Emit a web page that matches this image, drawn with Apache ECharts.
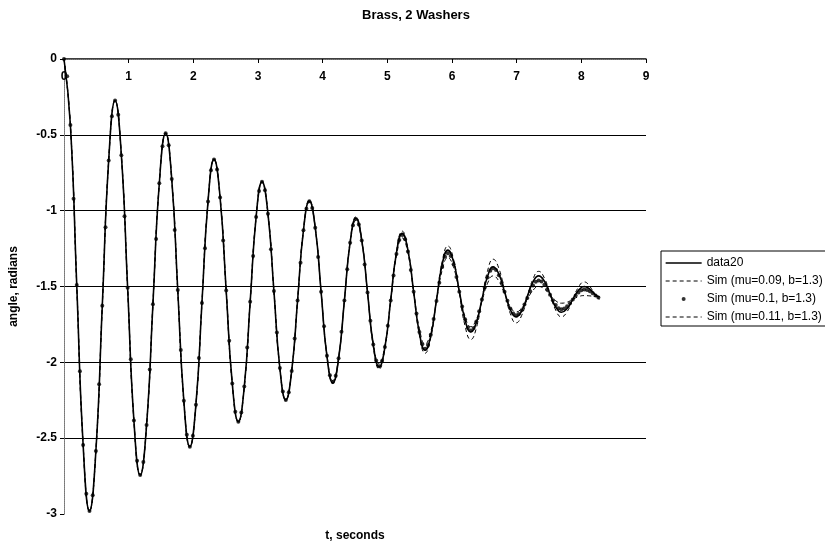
<!DOCTYPE html>
<html>
<head>
<meta charset="utf-8">
<title>Brass, 2 Washers</title>
<script src="https://cdn.jsdelivr.net/npm/echarts@6/dist/echarts.min.js"></script>
<style>
    html, body { margin: 0; padding: 0; background: #fff; }
    #chart { width: 825px; height: 547px; }
</style>
</head>
<body>
<div id="chart"></div>
<script>
// sample times of the simulated dots (mu=0.1), seconds
const simTime = [
    0, 0.049, 0.099, 0.148, 0.197, 0.246, 0.296, 0.345,
    0.394, 0.444, 0.493, 0.543, 0.592, 0.642, 0.691, 0.741,
    0.790, 0.839, 0.887, 0.936, 0.984, 1.033, 1.081, 1.130,
    1.178, 1.227, 1.277, 1.326, 1.375, 1.424, 1.474, 1.523,
    1.572, 1.619, 1.666, 1.712, 1.759, 1.806, 1.853, 1.899,
    1.946, 1.993, 2.040, 2.086, 2.133, 2.180, 2.227, 2.273,
    2.320, 2.367, 2.414, 2.461, 2.508, 2.555, 2.602, 2.649,
    2.696, 2.742, 2.788, 2.833, 2.879, 2.925, 2.971, 3.016,
    3.062, 3.108, 3.154, 3.200, 3.246, 3.292, 3.338, 3.384,
    3.430, 3.476, 3.521, 3.567, 3.612, 3.658, 3.703, 3.749,
    3.794, 3.839, 3.885, 3.930, 3.976, 4.021, 4.066, 4.112,
    4.157, 4.202, 4.246, 4.291, 4.336, 4.380, 4.425, 4.469,
    4.514, 4.559, 4.604, 4.649, 4.694, 4.738, 4.783, 4.828,
    4.873, 4.918, 4.962, 5.007, 5.052, 5.096, 5.141, 5.185,
    5.230, 5.274, 5.319, 5.363, 5.407, 5.451, 5.496, 5.540,
    5.584, 5.628, 5.672, 5.716, 5.760, 5.804, 5.848, 5.892,
    5.936, 5.980, 6.025, 6.069, 6.113, 6.157, 6.202, 6.246,
    6.290, 6.333, 6.377, 6.420, 6.463, 6.506, 6.550, 6.593,
    6.636, 6.680, 6.725, 6.769, 6.813, 6.857, 6.902, 6.946,
    6.990, 7.034, 7.078, 7.121, 7.165, 7.209, 7.253, 7.296,
    7.340, 7.384, 7.428, 7.472, 7.516, 7.560, 7.604, 7.648,
    7.692, 7.736, 7.780, 7.824, 7.868, 7.912, 7.956, 8.000,
    8.044, 8.088, 8.132, 8.176, 8.220, 8.264
];

// Sim (mu=0.1, b=1.3), radians
const sim10 = [
    0, -0.113, -0.435, -0.921, -1.49, -2.059, -2.545, -2.867,
    -2.98, -2.877, -2.585, -2.144, -1.627, -1.110, -0.669, -0.377,
    -0.274, -0.368, -0.634, -1.037, -1.509, -1.980, -2.383, -2.649,
    -2.743, -2.657, -2.414, -2.047, -1.617, -1.186, -0.819, -0.576,
    -0.49, -0.569, -0.792, -1.128, -1.523, -1.918, -2.254, -2.477,
    -2.556, -2.484, -2.279, -1.971, -1.609, -1.247, -0.939, -0.734,
    -0.662, -0.728, -0.914, -1.196, -1.527, -1.857, -2.139, -2.325,
    -2.391, -2.331, -2.160, -1.902, -1.601, -1.299, -1.041, -0.870,
    -0.81, -0.865, -1.020, -1.254, -1.529, -1.804, -2.038, -2.193,
    -2.248, -2.198, -2.057, -1.843, -1.593, -1.343, -1.129, -0.988,
    -0.938, -0.983, -1.112, -1.306, -1.534, -1.762, -1.956, -2.085,
    -2.13, -2.089, -1.973, -1.798, -1.593, -1.387, -1.212, -1.096,
    -1.055, -1.092, -1.197, -1.355, -1.540, -1.725, -1.883, -1.988,
    -2.025, -1.992, -1.899, -1.758, -1.593, -1.427, -1.286, -1.193,
    -1.16, -1.188, -1.269, -1.392, -1.535, -1.678, -1.800, -1.881,
    -1.91, -1.886, -1.818, -1.715, -1.595, -1.475, -1.372, -1.304,
    -1.28, -1.299, -1.354, -1.438, -1.535, -1.632, -1.716, -1.771,
    -1.79, -1.774, -1.730, -1.663, -1.585, -1.507, -1.440, -1.396,
    -1.38, -1.392, -1.425, -1.476, -1.535, -1.594, -1.645, -1.678,
    -1.69, -1.681, -1.656, -1.619, -1.575, -1.531, -1.494, -1.469,
    -1.46, -1.467, -1.488, -1.519, -1.555, -1.591, -1.622, -1.643,
    -1.65, -1.645, -1.631, -1.610, -1.585, -1.560, -1.539, -1.525,
    -1.52, -1.523, -1.532, -1.545, -1.56, -1.572
];

// sample times of the measured data and the two dashed sims, seconds
const lineTime = [
    0, 0.099, 0.197, 0.296,
    0.394, 0.493, 0.592, 0.691,
    0.790, 0.887, 0.984, 1.081,
    1.178, 1.277, 1.375, 1.474,
    1.572, 1.666, 1.759, 1.853,
    1.946, 2.040, 2.133, 2.227,
    2.320, 2.414, 2.508, 2.602,
    2.696, 2.788, 2.879, 2.971,
    3.062, 3.154, 3.246, 3.338,
    3.430, 3.521, 3.612, 3.703,
    3.794, 3.885, 3.976, 4.066,
    4.157, 4.246, 4.336, 4.425,
    4.514, 4.604, 4.694, 4.783,
    4.873, 4.962, 5.052, 5.141,
    5.230, 5.319, 5.407, 5.496,
    5.584, 5.672, 5.760, 5.848,
    5.936, 6.025, 6.113, 6.202,
    6.290, 6.377, 6.463, 6.550,
    6.636, 6.725, 6.813, 6.902,
    6.990, 7.078, 7.165, 7.253,
    7.340, 7.428, 7.516, 7.604,
    7.692, 7.780, 7.868, 7.956,
    8.044, 8.132, 8.220, 8.280
];

// data20, radians
const data20 = [
    0, -0.435, -1.49, -2.545,
    -2.98, -2.585, -1.627, -0.669,
    -0.274, -0.634, -1.509, -2.383,
    -2.743, -2.414, -1.617, -0.819,
    -0.49, -0.792, -1.523, -2.254,
    -2.556, -2.279, -1.609, -0.939,
    -0.662, -0.914, -1.527, -2.139,
    -2.391, -2.160, -1.601, -1.041,
    -0.81, -1.020, -1.529, -2.038,
    -2.248, -2.056, -1.592, -1.128,
    -0.936, -1.111, -1.536, -1.960,
    -2.135, -1.977, -1.593, -1.208,
    -1.05, -1.193, -1.540, -1.887,
    -2.03, -1.902, -1.590, -1.278,
    -1.15, -1.262, -1.535, -1.808,
    -1.92, -1.824, -1.590, -1.356,
    -1.26, -1.339, -1.530, -1.721,
    -1.80, -1.737, -1.585, -1.433,
    -1.37, -1.418, -1.535, -1.652,
    -1.70, -1.661, -1.565, -1.469,
    -1.43, -1.465, -1.550, -1.635,
    -1.67, -1.645, -1.585, -1.525,
    -1.50, -1.518, -1.555, -1.57
];

// Sim (mu=0.09, b=1.3), radians
const sim09 = [
    0, -0.435, -1.49, -2.545,
    -2.98, -2.585, -1.627, -0.669,
    -0.274, -0.634, -1.509, -2.383,
    -2.743, -2.414, -1.617, -0.819,
    -0.49, -0.792, -1.523, -2.254,
    -2.556, -2.279, -1.609, -0.939,
    -0.662, -0.914, -1.527, -2.139,
    -2.391, -2.160, -1.601, -1.041,
    -0.81, -1.020, -1.529, -2.038,
    -2.248, -2.056, -1.589, -1.122,
    -0.93, -1.107, -1.535, -1.963,
    -2.14, -1.979, -1.590, -1.201,
    -1.04, -1.187, -1.543, -1.898,
    -2.045, -1.912, -1.590, -1.268,
    -1.135, -1.253, -1.538, -1.822,
    -1.94, -1.837, -1.587, -1.336,
    -1.233, -1.323, -1.542, -1.760,
    -1.85, -1.773, -1.585, -1.397,
    -1.32, -1.381, -1.530, -1.679,
    -1.74, -1.690, -1.570, -1.450,
    -1.40, -1.444, -1.550, -1.656,
    -1.70, -1.666, -1.585, -1.504,
    -1.47, -1.50, -1.56, -1.585
];

// Sim (mu=0.11, b=1.3), radians
const sim11 = [
    0, -0.435, -1.49, -2.545,
    -2.98, -2.585, -1.627, -0.669,
    -0.274, -0.634, -1.509, -2.383,
    -2.743, -2.414, -1.617, -0.819,
    -0.49, -0.792, -1.523, -2.254,
    -2.556, -2.279, -1.609, -0.939,
    -0.662, -0.914, -1.527, -2.139,
    -2.391, -2.160, -1.601, -1.041,
    -0.81, -1.020, -1.529, -2.038,
    -2.248, -2.058, -1.597, -1.135,
    -0.945, -1.117, -1.533, -1.948,
    -2.12, -1.966, -1.593, -1.219,
    -1.065, -1.203, -1.538, -1.872,
    -2.01, -1.889, -1.595, -1.301,
    -1.18, -1.282, -1.530, -1.778,
    -1.88, -1.797, -1.595, -1.393,
    -1.31, -1.376, -1.538, -1.699,
    -1.765, -1.716, -1.598, -1.479,
    -1.43, -1.465, -1.549, -1.633,
    -1.668, -1.643, -1.584, -1.525,
    -1.50, -1.516, -1.555, -1.594,
    -1.61, -1.603, -1.585, -1.567,
    -1.56, -1.562, -1.566, -1.568
];

const seriesNames = ['data20', 'Sim (mu=0.09, b=1.3)', 'Sim (mu=0.1, b=1.3)', 'Sim (mu=0.11, b=1.3)'];

const FONT = "'Liberation Sans', Arial, sans-serif";
const boldText = { fontFamily: FONT, fontSize: 12, fontWeight: 'bold', color: '#000' };
const dottedBorder = { color: '#777', width: 1, type: 'dotted' };
const noSymbol = { color: 'rgba(0,0,0,0)', borderWidth: 0 };

//把时间和数值拼成点
function pairs(ts, vs) {
    return ts.map((t, i) => [t, vs[i]]);
}

const chart = echarts.init(document.getElementById('chart'));

chart.setOption({
    animation: false,
    backgroundColor: '#fff',
    textStyle: { fontFamily: FONT, color: '#000' },
    title: {
        text: 'Brass, 2 Washers',
        left: 362,
        top: 9,
        padding: 0,
        textStyle: { fontFamily: FONT, fontSize: 13, fontWeight: 'bold', color: '#000' }
    },
    legend: {
        orient: 'vertical',
        left: 661,
        top: 251,
        padding: [5, 4, 2, 4],
        itemGap: 4,
        itemWidth: 36,
        itemHeight: 4,
        borderColor: '#000',
        borderWidth: 1,
        borderRadius: 0,
        selectedMode: false,
        textStyle: { fontFamily: FONT, fontSize: 12, lineHeight: 14, color: '#000' },
        data: [
            { name: seriesNames[0], itemStyle: noSymbol, lineStyle: { color: '#000', width: 1.3, type: 'solid' } },
            { name: seriesNames[1], itemStyle: noSymbol, lineStyle: { color: '#000', width: 1, type: [4, 3] } },
            { name: seriesNames[2] },
            { name: seriesNames[3], itemStyle: noSymbol, lineStyle: { color: '#000', width: 1, type: [4, 3] } }
        ]
    },
    grid: { left: 60, right: 179, top: 59, bottom: 28 },
    xAxis: [
        {
            type: 'value',
            position: 'top',
            min: 0,
            max: 9,
            interval: 1,
            axisLine: { lineStyle: { color: '#000', width: 1.5 } },
            axisTick: { inside: true, length: 4, lineStyle: { color: '#000' } },
            axisLabel: Object.assign({ inside: true, margin: 12, showMinLabel: true, showMaxLabel: true }, boldText),
            splitLine: { show: false }
        },
        {
            type: 'value',
            position: 'bottom',
            min: 0,
            max: 9,
            axisLine: { show: true, lineStyle: dottedBorder },
            axisTick: { show: false },
            axisLabel: { show: false },
            splitLine: { show: false },
            name: 't, seconds',
            nameLocation: 'middle',
            nameGap: 16,
            nameTextStyle: boldText
        }
    ],
    yAxis: [
        {
            type: 'value',
            min: -3,
            max: 0,
            interval: 0.5,
            axisLine: { show: true, lineStyle: dottedBorder },
            axisTick: { show: true, length: 4, lineStyle: { color: '#000' } },
            axisLabel: Object.assign({ margin: 7 }, boldText),
            splitLine: {
                show: true,
                showMinLine: false,
                showMaxLine: false,
                lineStyle: { color: '#000', width: 1 }
            },
            name: 'angle, radians',
            nameLocation: 'middle',
            nameGap: 44,
            nameRotate: 90,
            nameTextStyle: boldText
        },
        {
            type: 'value',
            position: 'right',
            min: -3,
            max: 0,
            axisLine: { show: true, lineStyle: dottedBorder },
            axisTick: { show: false },
            axisLabel: { show: false },
            splitLine: { show: false }
        }
    ],
    series: [
        {
            name: seriesNames[0],
            type: 'line',
            data: pairs(lineTime, data20),
            symbol: 'none',
            smooth: 0.5,
            lineStyle: { color: '#000', width: 1.6 },
            itemStyle: { color: '#000' }
        },
        {
            name: seriesNames[1],
            type: 'line',
            data: pairs(lineTime, sim09),
            symbol: 'none',
            smooth: 0.5,
            lineStyle: { color: '#000', width: 1, type: [4, 3] },
            itemStyle: { color: '#000' }
        },
        {
            name: seriesNames[2],
            type: 'scatter',
            data: pairs(simTime, sim10),
            symbol: 'circle',
            symbolSize: 4,
            itemStyle: { color: '#000' }
        },
        {
            name: seriesNames[3],
            type: 'line',
            data: pairs(lineTime, sim11),
            symbol: 'none',
            smooth: 0.5,
            lineStyle: { color: '#000', width: 1, type: [4, 3] },
            itemStyle: { color: '#000' }
        }
    ]
});
</script>
</body>
</html>
